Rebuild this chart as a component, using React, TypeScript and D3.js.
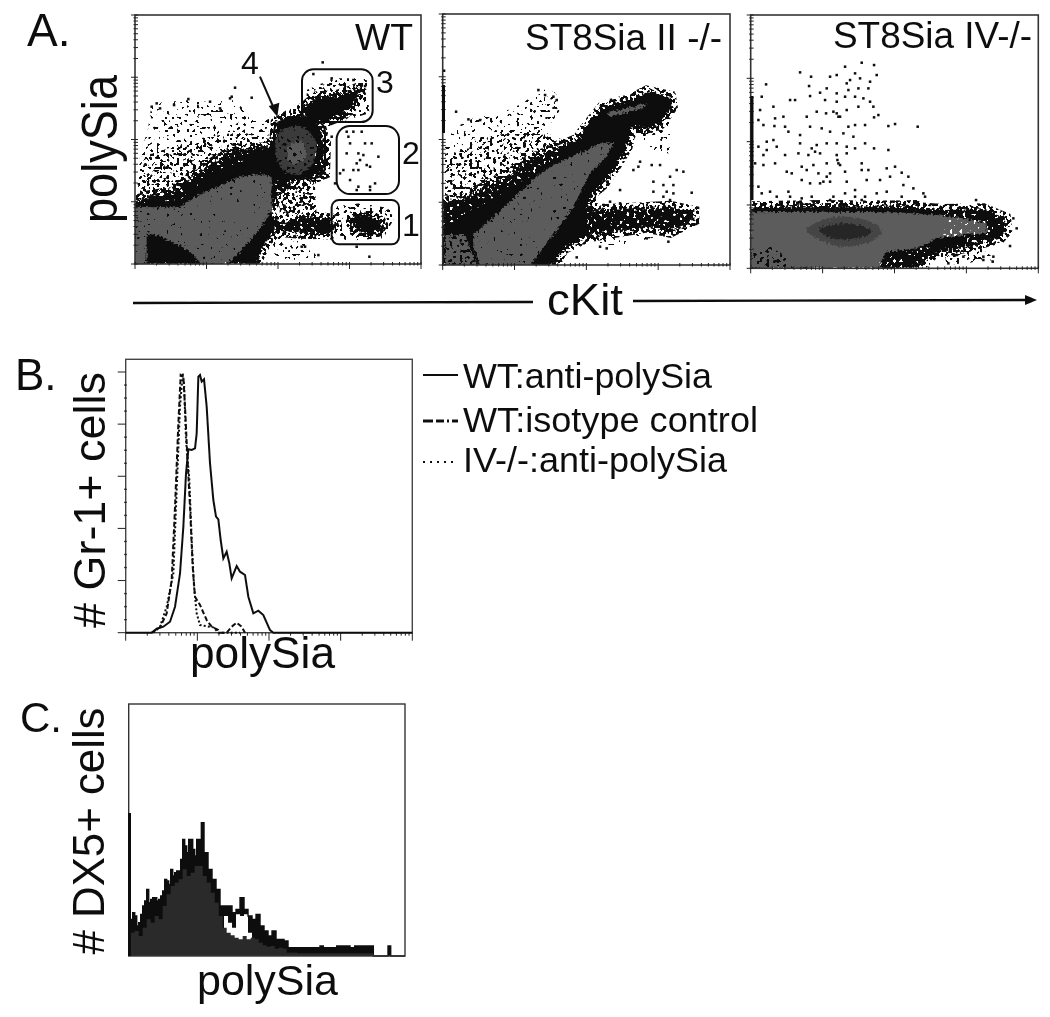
import React from "react";
import * as d3 from "d3";

type P = [number, number];

// ---------- Panel A, WT (read channels) ----------
const wtSparse: P[] = [[412,560],[420,470],[445,380],[455,310],[570,300],[640,305],[700,300],[780,370],[830,345],[830,440],[700,470],[620,500],[530,570],[420,590]];
const wtMedium: P[] = [[412,580],[425,470],[520,440],[600,415],[720,395],[820,420],[820,470],[700,470],[620,510],[540,580],[420,590]];
const wtBlack: P[] = [[405,605],[440,590],[520,578],[590,522],[650,482],[710,450],[790,445],[825,435],[830,370],[870,345],[905,345],[960,380],[975,430],[972,520],[930,538],[880,540],[860,570],[830,590],[815,620],[815,650],[850,672],[900,648],[990,658],[1000,680],[990,700],[900,698],[830,692],[800,720],[775,770],[770,792],[405,792]];
const wtGrey: P[] = [[405,620],[450,622],[540,622],[600,582],[660,558],[720,530],[780,522],[815,532],[815,630],[790,672],[765,705],[720,755],[682,792],[605,792],[565,750],[480,708],[440,700],[440,792],[405,792]];
const wtGate4Core: P[] = [[835,400],[900,378],[945,420],[935,495],[880,525],[835,490]];
const wtGate4Inner: P[] = [[865,440],[905,425],[918,470],[870,490]];
const wtSpeck1: P[] = [[835,560],[880,545],[945,560],[950,650],[900,655],[840,650]];
const wtSpeck2: P[] = [[810,705],[900,705],[955,775],[830,790]];
const wtGate3Speck: P[] = [[920,270],[1000,235],[1100,235],[1108,340],[1000,372],[920,350]];
const wtGate3Black: P[] = [[910,325],[950,292],[1010,288],[1060,272],[1082,262],[1062,312],[1030,342],[970,366],[920,356]];
const wtGate1Speck: P[] = [[1000,620],[1080,610],[1170,625],[1180,660],[1150,715],[1040,722],[1005,700]];
const wtGate1Black: P[] = [[1050,658],[1090,640],[1140,665],[1152,685],[1110,702],[1070,692]];
const wtHoles: P[][] = [
  [[815,540],[950,540],[950,690],[825,700]],
  [[420,585],[520,570],[600,515],[700,460],[760,440],[770,470],[650,510],[540,600],[420,610]],
  [[970,385],[980,530],[930,540],[960,390]],
];
const wtDots: P[] = [[1040,395],[1060,395],[1085,395],[1050,430],[1040,460],[1075,460],[1090,465],[1115,430],[1135,470],[1030,510],[1070,490],[1075,510],[1100,495],[1110,500],[1020,520],[1050,540],[1075,560],[1070,570],[1110,560],[1125,550],[1095,430],[1060,510],[1045,410],[1080,480],[1110,570],[968,187],[705,263],[690,295],[695,290],[755,293],[565,297],[1108,770],[1070,740],[955,765],[905,740],[915,740],[455,320],[480,325],[470,310],[522,315],[630,305],[660,325],[1005,550],[980,400],[995,410],[940,222],[995,235],[1060,240],[1095,258]];
const wtGates = [
  { id: "3", x0: 906, x1: 1118, y0: 208, y1: 366, r: 34 },
  { id: "2", x0: 1010, x1: 1197, y0: 378, y1: 582, r: 40 },
  { id: "1", x0: 995, x1: 1197, y0: 600, y1: 733, r: 22 },
  { id: "4", x0: 822, x1: 975, y0: 360, y1: 535, r: 36 },
];

// ---------- Panel A, ST8Sia II -/- ----------
const iiSparse: P[] = [[45,440],[60,390],[130,355],[210,340],[280,310],[325,265],[385,280],[390,330],[345,395],[420,430],[330,470],[240,520],[160,560],[90,590],[45,590]];
const iiMedium: P[] = [[45,480],[130,420],[230,400],[330,390],[400,430],[330,460],[250,510],[170,560],[100,595],[45,600]];
const iiRight: P[] = [[610,380],[720,340],[725,460],[680,460],[640,420]];
const iiBlack: P[] = [[38,605],[90,600],[170,560],[230,530],[300,480],[380,445],[440,420],[480,370],[520,320],[600,300],[650,275],[720,290],[725,320],[690,370],[650,385],[605,380],[590,440],[560,490],[520,550],[490,575],[470,625],[530,630],[640,625],[720,620],[790,635],[790,660],[720,695],[650,680],[560,695],[470,710],[400,745],[370,795],[300,795],[38,795]];
const iiGrey: P[] = [[130,705],[240,605],[330,520],[400,480],[470,450],[510,430],[550,430],[530,470],[480,520],[450,580],[430,620],[380,690],[320,770],[300,795],[150,795],[130,740]];
const iiGreyLeft: P[] = [[45,705],[105,705],[140,795],[45,795]];
const iiGreyBand: P[] = [[530,340],[650,310],[640,325],[540,350]];
const iiLowSpeck: P[] = [[470,710],[600,695],[680,710],[540,745]];
const iiEdge: P[] = [[500,510],[590,440],[560,490],[520,575],[490,590]];
const iiHoles: P[][] = [
  [[470,625],[790,625],[790,695],[470,715]],
  [[45,600],[170,560],[380,440],[400,470],[200,590],[45,680]],
];
const iiDots: P[] = [[42,212],[78,335],[115,358],[150,360],[325,270],[370,290],[345,285],[380,300],[630,485],[665,495],[690,495],[610,510],[740,510],[760,515],[720,530],[670,545],[700,555],[730,555],[785,578],[670,575],[710,575],[730,580],[700,590],[720,600],[650,715],[715,725],[530,745],[510,740],[440,772],[625,500],[570,570],[540,605],[570,610]];

// ---------- Panel A, ST8Sia IV-/- ----------
const ivBlack: P[] = [[62,622],[280,618],[500,620],[640,630],[760,628],[825,655],[830,690],[810,712],[700,742],[610,760],[560,805],[455,805],[450,770],[62,805]];
const ivGrey: P[] = [[62,637],[280,635],[500,637],[620,645],[700,655],[770,670],[770,700],[700,705],[620,715],[560,745],[470,755],[450,790],[455,805],[62,805]];
const ivCoreOuter: P[] = [[230,690],[280,660],[350,650],[420,665],[455,695],[420,725],[340,740],[270,720]];
const ivCoreInner: P[] = [[265,690],[320,672],[380,675],[425,695],[380,715],[310,715]];
const ivLowLeft: P[] = [[70,745],[130,740],[190,790],[185,805],[70,805]];
const ivStrip: P[] = [[80,612],[560,600],[610,628],[80,628]];
const ivLowRight: P[] = [[640,745],[740,735],[800,780],[650,795]];
const ivHoles: P[][] = [
  [[640,635],[830,640],[830,720],[640,745]],
  [[450,760],[600,740],[570,805],[450,805]],
];
const ivDots: P[] = [[395,188],[432,195],[345,200],[210,217],[375,220],[440,225],[243,230],[300,230],[320,225],[360,240],[390,235],[420,245],[350,250],[108,253],[237,258],[270,278],[290,265],[320,280],[355,270],[385,265],[415,265],[240,288],[285,300],[180,300],[195,300],[320,305],[345,290],[375,290],[400,295],[420,305],[95,290],[130,320],[90,330],[260,335],[288,340],[320,340],[350,330],[385,320],[430,320],[445,345],[432,352],[85,360],[100,375],[135,355],[160,350],[165,380],[133,378],[230,350],[240,380],[275,385],[325,350],[355,380],[375,375],[405,375],[475,378],[495,372],[563,380],[175,395],[210,405],[300,395],[340,400],[370,410],[85,440],[110,425],[130,420],[140,440],[100,465],[110,450],[210,430],[260,435],[290,430],[320,430],[350,440],[375,445],[405,430],[432,445],[475,450],[165,465],[205,460],[235,465],[270,460],[320,465],[350,460],[75,490],[100,495],[135,490],[215,500],[250,495],[290,490],[325,490],[395,490],[470,505],[495,500],[170,515],[185,520],[230,510],[265,520],[300,520],[345,515],[395,510],[415,510],[480,530],[515,518],[535,530],[85,560],[120,575],[175,575],[215,540],[240,550],[270,550],[300,545],[350,545],[375,570],[450,540],[410,540],[520,555],[550,565],[95,580],[140,590],[180,590],[215,595],[245,590],[310,590],[345,580],[375,590],[405,590],[440,580],[470,575],[515,590],[580,580],[585,590],[738,600],[150,610],[205,610],[250,605],[300,600],[335,605],[395,600],[445,605],[555,610],[600,615],[790,770],[760,770],[760,780],[700,770],[680,765],[840,738],[860,685],[850,655],[788,785],[655,790],[322,480],[330,495],[310,335],[330,350],[245,445],[255,455],[280,545],[290,530]];

// ---------- Panel B histograms (channel, height read from the frame) ----------
const wtAnti: P[] = [[377,878],[455,878],[470,866],[490,860],[510,845],[525,800],[540,700],[550,560],[558,400],[565,328],[575,330],[585,325],[590,280],[595,110],[600,105],[605,125],[612,118],[620,200],[630,370],[640,480],[648,530],[655,538],[662,600],[670,655],[680,635],[688,670],[695,715],[710,678],[720,695],[735,705],[745,770],[760,820],[775,812],[790,825],[810,870],[820,878],[1237,878]];
const wtIso: P[] = [[455,878],[480,862],[500,820],[515,720],[525,500],[535,250],[542,105],[550,110],[555,200],[562,350],[570,500],[578,680],[585,770],[600,795],[620,840],[635,860],[655,870],[660,878],[680,878],[695,860],[710,848],[725,860],[735,878]];
const ivAnti: P[] = [[460,878],[480,860],[500,800],[520,700],[530,450],[540,200],[548,100],[552,130],[558,300],[568,420],[575,600],[582,740],[590,820],[600,855],[640,862],[655,878],[720,878]];

// ---------- Panel C histograms ----------
const dxOuter: P[] = [[390,110],[398,130],[404,120],[410,90],[416,100],[422,125],[428,150],[434,165],[440,200],[446,160],[452,170],[458,175],[464,175],[470,165],[476,170],[482,180],[488,195],[494,230],[500,225],[506,215],[512,260],[518,240],[524,250],[530,255],[536,255],[542,290],[548,350],[554,330],[560,310],[566,350],[572,350],[578,320],[584,300],[590,350],[596,350],[604,400],[612,310],[624,260],[636,230],[648,200],[660,150],[672,150],[684,150],[696,130],[708,140],[720,175],[732,140],[744,120],[756,110],[768,125],[780,90],[792,75],[804,60],[816,75],[828,50],[840,50],[852,45],[864,25],[960,30],[970,25],[1010,30],[1050,25],[1064,30],[1120,0],[1164,30],[1172,0],[1215,0]];
const dxGap: P[] = [[672,120],[684,100],[696,85],[708,125],[720,120],[732,125],[744,70],[756,0]];
const dxFilled: P[] = [[390,70],[404,75],[416,60],[428,85],[440,110],[452,100],[464,120],[476,110],[488,150],[500,185],[512,210],[524,220],[536,230],[548,260],[560,240],[572,250],[584,270],[596,270],[608,240],[620,220],[632,190],[644,160],[656,120],[668,85],[680,70],[692,62],[704,55],[716,50],[728,60],[740,50],[752,55],[764,50],[776,40],[788,32],[800,28],[812,30],[824,22],[836,25],[848,22],[860,10],[890,8],[1050,8],[1120,0]];

const FONT = "'Liberation Sans', Arial, sans-serif";
const legendItems = [
  { label: "WT:anti-polySia", y: 388, end: 249, lineY: 375, dash: "none", w: 1.8 },
  { label: "WT:isotype control", y: 432, end: 295, lineY: 421, dash: "10 3 8 3 2 3", w: 3 },
  { label: "IV-/-:anti-polySia", y: 472, end: 264, lineY: 462, dash: "2 5", w: 2 },
];

type Scale = d3.ScaleLinear<number, number>;
const closed = (pts: P[], x: Scale, y: Scale, smooth = false) =>
  d3.line<P>().x((d) => x(d[0])).y((d) => y(d[1])).curve(smooth ? d3.curveCatmullRomClosed : d3.curveLinearClosed)(pts) || "";

function LogTicks({ x0, x1, y0, y1 }: { x0: number; x1: number; y0: number; y1: number }) {
  const lx = d3.scaleLog().domain([1, 10000]).range([x0, x1]);
  const ly = d3.scaleLog().domain([1, 10000]).range([y0, y1]);
  const isMajor = (v: number) => Math.abs(Math.log10(v) - Math.round(Math.log10(v))) < 1e-6;
  return (
    <g stroke="#222" strokeWidth={1}>
      {lx.ticks().map((v) => (
        <line key={"x" + v} x1={lx(v)} x2={lx(v)} y1={y0 - 2} y2={y0 + (isMajor(v) ? 5 : 1.5)} />
      ))}
      {ly.ticks().map((v) => (
        <line key={"y" + v} y1={ly(v)} y2={ly(v)} x1={x0 - (isMajor(v) ? 4 : 1.5)} x2={x0 + 3} />
      ))}
    </g>
  );
}

function Dots({ pts, x, y }: { pts: P[]; x: Scale; y: Scale }) {
  return (
    <g fill="#0c0c0c">
      {pts.map((d, i) => (
        <rect key={i} x={x(d[0]) - 1.2} y={y(d[1]) - 1.2} width={2.5} height={2.5} />
      ))}
    </g>
  );
}

function Text({ x, y, size, len, rot, children, anchor }: any) {
  return (
    <text
      transform={rot ? `translate(${x},${y}) rotate(-90)` : undefined}
      x={rot ? 0 : x}
      y={rot ? 0 : y}
      fontSize={size}
      fontFamily={FONT}
      fill="#111"
      textAnchor={anchor || "start"}
      textLength={len}
      lengthAdjust={len ? "spacingAndGlyphs" : undefined}
    >
      {children}
    </text>
  );
}

const Panel = ({ id, s, x0, x1, y0, y1, rare, sparse, medium, black, grey, dark, dots, holes, over }: any) => (
  <g>
    <clipPath id={"clip" + id}>
      <rect x={x0} y={y1} width={x1 - x0} height={y0 - y1} />
    </clipPath>
    <g clipPath={`url(#clip${id})`}>
      {(rare || []).map((p: P[], i: number) => <path key={i} d={closed(p, s.x, s.y)} filter="url(#rare)" />)}
      {(sparse || []).map((p: P[], i: number) => <path key={i} d={closed(p, s.x, s.y)} filter="url(#sparse)" />)}
      {(medium || []).map((p: P[], i: number) => <path key={i} d={closed(p, s.x, s.y)} filter="url(#medium)" />)}
      {black.map((p: P[], i: number) => <path key={"h" + i} d={closed(p, s.x, s.y)} stroke="#000" strokeWidth={12} filter="url(#medium)" />)}
      {black.map((p: P[], i: number) => <path key={i} d={closed(p, s.x, s.y)} fill="#111" filter="url(#rough)" />)}
      {grey.map((p: P[], i: number) => <path key={i} d={closed(p, s.x, s.y)} fill="#5c5c5c" filter="url(#rough2)" />)}
      {(dark || []).map((p: any, i: number) => <path key={i} d={closed(p.pts, s.x, s.y, true)} fill={p.fill} filter="url(#rough2)" />)}
      {(over || []).map((p: any, i: number) => <path key={i} d={closed(p.pts, s.x, s.y)} filter={`url(#${p.level})`} />)}
      {(holes || []).map((p: P[], i: number) => <path key={i} d={closed(p, s.x, s.y)} filter="url(#holes)" />)}
      <Dots pts={dots} x={s.x} y={s.y} />
    </g>
  </g>
);

export default function App() {
  const p1 = { x: d3.scaleLinear().domain([405, 1263]).range([135, 421]), y: d3.scaleLinear().domain([792, 45]).range([264, 15]) };
  const p2 = { x: d3.scaleLinear().domain([38, 900]).range([442.7, 730]), y: d3.scaleLinear().domain([795, 42]).range([265, 14]) };
  const p3 = { x: d3.scaleLinear().domain([62, 925]).range([750.7, 1038.3]), y: d3.scaleLinear().domain([805, 45]).range([268.3, 15]) };
  const bx = d3.scaleLinear().domain([377, 1237]).range([125.7, 412.3]);
  const by = d3.scaleLinear().domain([878, 58]).range([632.7, 359.3]);
  const byPct = d3.scaleLinear().domain([0, 100]).range([632.7, 372]);
  const bLog = d3.scaleLog().domain([1, 10000]).range([125.7, 412.3]);
  const cx = d3.scaleLinear().domain([386, 1215]).range([128.7, 405]);
  const cy = d3.scaleLinear().domain([0, 756]).range([956, 704]);
  const bLine = d3.line<P>().x((d) => bx(d[0])).y((d) => by(d[1]));
  const cArea = d3.area<P>().x((d) => cx(d[0])).y0(cy(0)).y1((d) => cy(d[1])).curve(d3.curveStepAfter);
  const cLine = d3.line<P>().x((d) => cx(d[0])).y((d) => cy(d[1])).curve(d3.curveStepAfter);

  const gate = (g: (typeof wtGates)[number]) => ({
    x: p1.x(g.x0),
    y: p1.y(g.y0),
    width: p1.x(g.x1) - p1.x(g.x0),
    height: p1.y(g.y1) - p1.y(g.y0),
    rx: p1.x(g.r) - p1.x(0),
  });

  const speck = (id: string, seed: number, thr: number, color = "0.05") => (
    <filter id={id} x="-10%" y="-10%" width="120%" height="120%" colorInterpolationFilters="sRGB">
      <feTurbulence type="fractalNoise" baseFrequency="0.3" numOctaves={1} seed={seed} result="n" />
      <feColorMatrix in="n" type="matrix" values={`0 0 0 0 ${color}  0 0 0 0 ${color}  0 0 0 0 ${color}  40 0 0 0 ${-40 * thr}`} result="t" />
      <feComposite in="t" in2="SourceAlpha" operator="in" />
    </filter>
  );

  return (
    <svg width={1050} height={1017} style={{ position: "absolute", left: 0, top: 0, display: "block", background: "#fff" }}>
      <defs>
        {speck("rare", 11, 0.63)}
        {speck("sparse", 4, 0.57)}
        {speck("medium", 9, 0.5)}
        {speck("holes", 21, 0.65, "1")}
        {speck("faint", 14, 0.7)}
        <filter id="rough" x="-10%" y="-10%" width="120%" height="120%">
          <feTurbulence type="fractalNoise" baseFrequency="0.4" numOctaves={1} seed={2} result="n" />
          <feDisplacementMap in="SourceGraphic" in2="n" scale={9} xChannelSelector="R" yChannelSelector="G" />
        </filter>
        <filter id="rough2" x="-10%" y="-10%" width="120%" height="120%">
          <feTurbulence type="fractalNoise" baseFrequency="0.45" numOctaves={1} seed={7} result="n" />
          <feDisplacementMap in="SourceGraphic" in2="n" scale={7} xChannelSelector="R" yChannelSelector="G" />
        </filter>
        <filter id="soft"><feGaussianBlur stdDeviation={0.45} /></filter>
      </defs>

      <g filter="url(#soft)">
        {/* Panel A */}
        <Panel id="1" s={p1} x0={135} x1={421} y0={264} y1={15}
          rare={[wtSparse, wtSpeck2]} sparse={[wtMedium, wtGate3Speck, wtGate1Speck]} medium={[wtSpeck1]}
          black={[wtBlack, wtGate3Black, wtGate1Black]} grey={[wtGrey]}
          dark={[{ pts: wtGate4Core, fill: "#3a3a3a" }, { pts: wtGate4Inner, fill: "#5a5a5a" }]}
          over={[{ pts: wtGrey, level: "faint" }, { pts: wtGate4Core, level: "rare" }]}
          holes={wtHoles} dots={wtDots} />
        <Panel id="2" s={p2} x0={442.7} x1={730} y0={265} y1={14}
          rare={[iiSparse, iiRight, iiLowSpeck]} sparse={[iiMedium, iiEdge]}
          black={[iiBlack]} grey={[iiGrey, iiGreyLeft, iiGreyBand]}
          over={[{ pts: iiGreyLeft, level: "sparse" }, { pts: iiGrey, level: "faint" }]}
          holes={iiHoles} dots={iiDots} />
        <Panel id="3" s={p3} x0={750.7} x1={1038.3} y0={268.3} y1={15}
          medium={[ivStrip]} sparse={[ivLowRight]}
          black={[ivBlack]} grey={[ivGrey]}
          dark={[{ pts: ivCoreOuter, fill: "#444" }, { pts: ivCoreInner, fill: "#262626" }]}
          over={[{ pts: ivLowLeft, level: "sparse" }]}
          holes={ivHoles} dots={ivDots} />

        <g fill="none" stroke="#333" strokeWidth={1.6}>
          <rect x={135} y={15} width={286} height={249} />
          <rect x={442.7} y={14} width={287.3} height={251} />
          <rect x={750.7} y={15} width={287.6} height={253.3} />
        </g>
        <LogTicks x0={135} x1={421} y0={264} y1={15} />
        <LogTicks x0={442.7} x1={730} y0={265} y1={14} />
        <LogTicks x0={750.7} x1={1038.3} y0={268.3} y1={15} />
        <line x1={443.5} x2={443.5} y1={85} y2={133} stroke="#111" strokeWidth={3} />
        <line x1={752} x2={752} y1={96} y2={200} stroke="#111" strokeWidth={3} />

        {wtGates.map((g) => <rect key={g.id} {...gate(g)} fill="none" stroke="#111" strokeWidth={2} />)}
        <Text x={27} y={46} size={46}>A.</Text>
        <Text x={117} y={149} size={50} len={148} rot anchor="middle">polySia</Text>
        <Text x={355} y={50} size={36} len={58}>WT</Text>
        <Text x={525} y={50} size={37} len={197}>ST8Sia II -/-</Text>
        <Text x={833} y={48} size={37} len={199}>ST8Sia IV-/-</Text>
        <Text x={241} y={74} size={32}>4</Text>
        <Text x={376} y={93} size={32}>3</Text>
        <Text x={402} y={164} size={32}>2</Text>
        <Text x={402} y={236} size={32}>1</Text>
        <line x1={p1.x(780)} y1={p1.y(230)} x2={p1.x(826)} y2={p1.y(335)} stroke="#111" strokeWidth={2} />
        <path d={`M${p1.x(832)},${p1.y(350)} L${p1.x(806)},${p1.y(318)} L${p1.x(838)},${p1.y(308)} Z`} fill="#111" />

        <line x1={133} y1={303} x2={533} y2={302} stroke="#111" strokeWidth={2.4} />
        <line x1={633} y1={301} x2={1026} y2={300} stroke="#111" strokeWidth={2.4} />
        <path d="M1037,300 L1025,295 L1025,305 Z" fill="#111" />
        <Text x={547} y={315} size={44} len={76}>cKit</Text>

        {/* Panel B */}
        <rect x={125.7} y={359.3} width={286.6} height={273.4} fill="none" stroke="#444" strokeWidth={1.4} />
        <g stroke="#222" strokeWidth={1}>
          {d3.range(0, 101, 5).map((v) => (
            <line key={v} y1={byPct(v)} y2={byPct(v)} x1={125.7 - (v % 20 === 0 ? 8 : 1.5)} x2={125.7 + (v % 20 === 0 ? 0 : 1)} strokeWidth={v % 20 === 0 ? 1 : 1.4} />
          ))}
          {bLog.ticks().map((v) => {
            const m = Math.abs(Math.log10(v) - Math.round(Math.log10(v))) < 1e-6;
            return <line key={"b" + v} x1={bLog(v)} x2={bLog(v)} y1={632.7} y2={632.7 + (m ? 8 : 3)} />;
          })}
        </g>
        <g fill="none">
          <path d={bLine(wtIso) || ""} stroke="#111" strokeWidth={2} strokeDasharray="5 2.5" />
          <path d={bLine(ivAnti) || ""} stroke="#111" strokeWidth={2} strokeDasharray="2 2.2" />
          <path d={bLine(wtAnti) || ""} stroke="#111" strokeWidth={2} />
        </g>
        <Text x={15} y={390} size={44}>B.</Text>
        <Text x={105} y={500} size={45} len={256} rot anchor="middle"># Gr-1+ cells</Text>
        <Text x={190} y={668} size={44} len={145}>polySia</Text>
        {legendItems.map((l) => (
          <g key={l.label}>
            <line x1={423} x2={458} y1={l.lineY} y2={l.lineY} stroke="#111" strokeWidth={l.w} strokeDasharray={l.dash} />
            <Text x={463} y={l.y} size={35} len={l.end}>{l.label}</Text>
          </g>
        ))}

        {/* Panel C */}
        <path d={cArea(dxOuter) || ""} fill="#0e0e0e" />
        <path d={cArea(dxGap) || ""} fill="#fff" />
        <path d={cLine(dxOuter) || ""} fill="none" stroke="#0e0e0e" strokeWidth={1.4} />
        <path d={cArea(dxFilled) || ""} fill="#2c2c2c" />
        <rect x={128.7} y={704} width={276.3} height={252} fill="none" stroke="#333" strokeWidth={1.4} />
        <line x1={129.5} x2={129.5} y1={813} y2={956} stroke="#111" strokeWidth={3} />
        <Text x={20} y={732} size={42}>C.</Text>
        <Text x={104} y={831} size={44} len={247} rot anchor="middle"># DX5+ cells</Text>
        <Text x={197} y={995} size={43} len={141}>polySia</Text>
      </g>
    </svg>
  );
}
